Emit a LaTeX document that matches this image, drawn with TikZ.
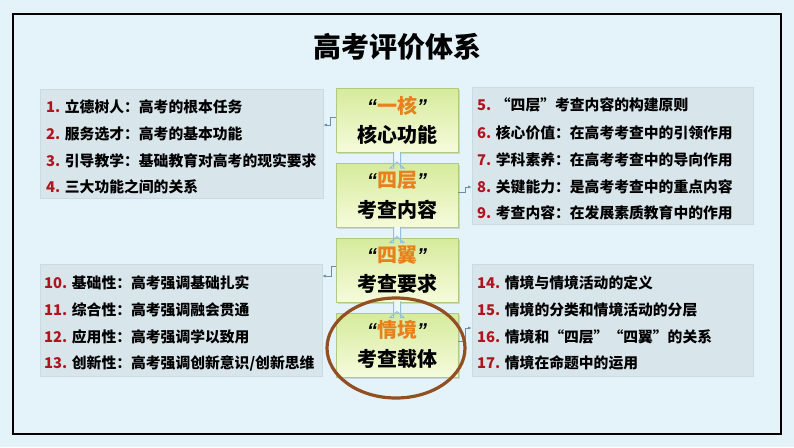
\documentclass[tikz,border=0pt]{standalone}
\usepackage{fontspec}
\setmainfont{Noto Sans CJK SC}
\newfontfamily\latinq{Liberation Sans}
\usetikzlibrary{shadows,arrows.meta,shapes.geometric}
\definecolor{bgc}{HTML}{E4F3F9}
\definecolor{listfill}{HTML}{D8E6EC}
\definecolor{listline}{HTML}{C8DAE2}
\definecolor{boxtop}{HTML}{D6EB9C}
\definecolor{boxbot}{HTML}{F6FBDC}
\definecolor{boxline}{HTML}{AFCB80}
\definecolor{numred}{HTML}{B0141E}
\definecolor{orng}{HTML}{E8801E}
\definecolor{ringc}{HTML}{924F22}
\definecolor{connc}{HTML}{6A8FA8}
\definecolor{arrc}{HTML}{92BFDA}
\definecolor{arrfill}{HTML}{EEF7FB}
\tikzset{
  listbox/.style={fill=listfill,draw=listline,line width=0.8pt,inner sep=0pt},
  corebox/.style={draw=boxline,line width=0.8pt,top color=boxtop,bottom color=boxbot,
    minimum width=122pt,minimum height=64pt,inner sep=0pt,
    drop shadow={shadow xshift=1.5pt,shadow yshift=-1.5pt,opacity=0.25}},
  item/.style={anchor=west,font=\bfseries\fontsize{14.8}{16}\selectfont,inner sep=0pt},
  qline/.style={font=\bfseries\fontsize{20}{22}\selectfont,inner sep=0pt},
  conn/.style={draw=connc,line width=0.6pt,-{Latex[length=3.5pt,width=3pt]}},
  hollow/.style={draw=arrc,line width=1pt,fill=arrfill},
}
\newcommand{\nm}[1]{\textcolor{numred}{#1}}
\newcommand{\og}[1]{{\latinq\itshape “}\textcolor{orng}{#1}{\latinq\itshape ”}}
\begin{document}
\begin{tikzpicture}[x=1pt,y=-1pt]
\fill[bgc] (0,0) rectangle (794,447);
\useasboundingbox (0,0) rectangle (794,447);
\draw[black,line width=2.4pt] (13,14) rectangle (781,434);
\node[font=\bfseries\fontsize{28}{30}\selectfont] (title) at (397,47) {高考评价体系};

% list boxes
\node[listbox,minimum width=283pt,minimum height=109pt] (L1) at (181.5,144) {};
\node[listbox,minimum width=281pt,minimum height=137pt] (R1) at (612.5,155.5) {};
\node[listbox,minimum width=282pt,minimum height=112pt] (L2) at (181,320) {};
\node[listbox,minimum width=281pt,minimum height=112pt] (R2) at (612.5,320) {};

\node[item] (l1) at (46,107) {\nm{1.} 立德树人：高考的根本任务};
\node[item] (l2) at (46,134) {\nm{2.} 服务选才：高考的基本功能};
\node[item] (l3) at (46,161) {\nm{3.} 引导教学：基础教育对高考的现实要求};
\node[item] (l4) at (46,187) {\nm{4.} 三大功能之间的关系};

\node[item] (r5) at (477,105) {\nm{5.} “四层”考查内容的构建原则};
\node[item] (r6) at (477,133) {\nm{6.} 核心价值：在高考考查中的引领作用};
\node[item] (r7) at (477,160) {\nm{7.} 学科素养：在高考考查中的导向作用};
\node[item] (r8) at (477,187) {\nm{8.} 关键能力：是高考考查中的重点内容};
\node[item] (r9) at (477,213) {\nm{9.} 考查内容：在发展素质教育中的作用};

\node[item] (l10) at (44,283) {\nm{10.} 基础性：高考强调基础扎实};
\node[item] (l11) at (44,310) {\nm{11.} 综合性：高考强调融会贯通};
\node[item] (l12) at (44,337) {\nm{12.} 应用性：高考强调学以致用};
\node[item] (l13) at (44,363) {\nm{13.} 创新性：高考强调创新意识/创新思维};

\node[item] (r14) at (477,283) {\nm{14.} 情境与情境活动的定义};
\node[item] (r15) at (477,310) {\nm{15.} 情境的分类和情境活动的分层};
\node[item] (r16) at (477,337) {\nm{16.} 情境和“四层”“四翼”的关系};
\node[item] (r17) at (477,363) {\nm{17.} 情境在命题中的运用};

% core boxes
\node[corebox] (C1) at (397,120.5) {};
\node[corebox] (C2) at (397,195.5) {};
\node[corebox] (C3) at (397,270) {};
\node[corebox] (C4) at (397,345) {};
\node[qline] (t1a) at (397,105.5) {\og{一核}};
\node[qline] (t1b) at (397,134.5) {核心功能};
\node[qline] (t2a) at (397,180.5) {\og{四层}};
\node[qline] (t2b) at (397,209.5) {考查内容};
\node[qline] (t3a) at (397,255) {\og{四翼}};
\node[qline] (t3b) at (397,284) {考查要求};
\node[qline] (t4a) at (397,330) {\og{情境}};
\node[qline] (t4b) at (397,359) {考查载体};

% hollow arrows between core boxes
\foreach \a/\b in {C1/C2,C2/C3,C3/C4}{
  \draw[hollow,line join=miter] ([xshift=-3.5pt,yshift=1pt]\a.south) -- ([xshift=-3.5pt,yshift=-5pt]\b.north)
    -- ([xshift=-7pt,yshift=-5pt]\b.north) -- ([yshift=1pt]\b.north) -- ([xshift=7pt,yshift=-5pt]\b.north)
    -- ([xshift=3.5pt,yshift=-5pt]\b.north) -- ([xshift=3.5pt,yshift=1pt]\a.south);
}

% connectors
\draw[conn] (C1.west|-0,117) -- (330,117) -- (330,125) -- (L1.east|-0,125);
\draw[conn] (C2.east|-0,192) -- (465,192) -- (465,187) -- (R1.west|-0,187);
\draw[conn] (C3.west|-0,266) -- (331,266) -- (331,276) -- (L2.east|-0,276);
\draw[conn] (C4.east|-0,341) -- (465,341) -- (465,328) -- (R2.west|-0,328);

% ring
\node[draw=ringc,line width=3.2pt,ellipse,minimum width=138pt,minimum height=100pt,inner sep=0pt] (ring) at (396,348) {};
\end{tikzpicture}
\end{document}
